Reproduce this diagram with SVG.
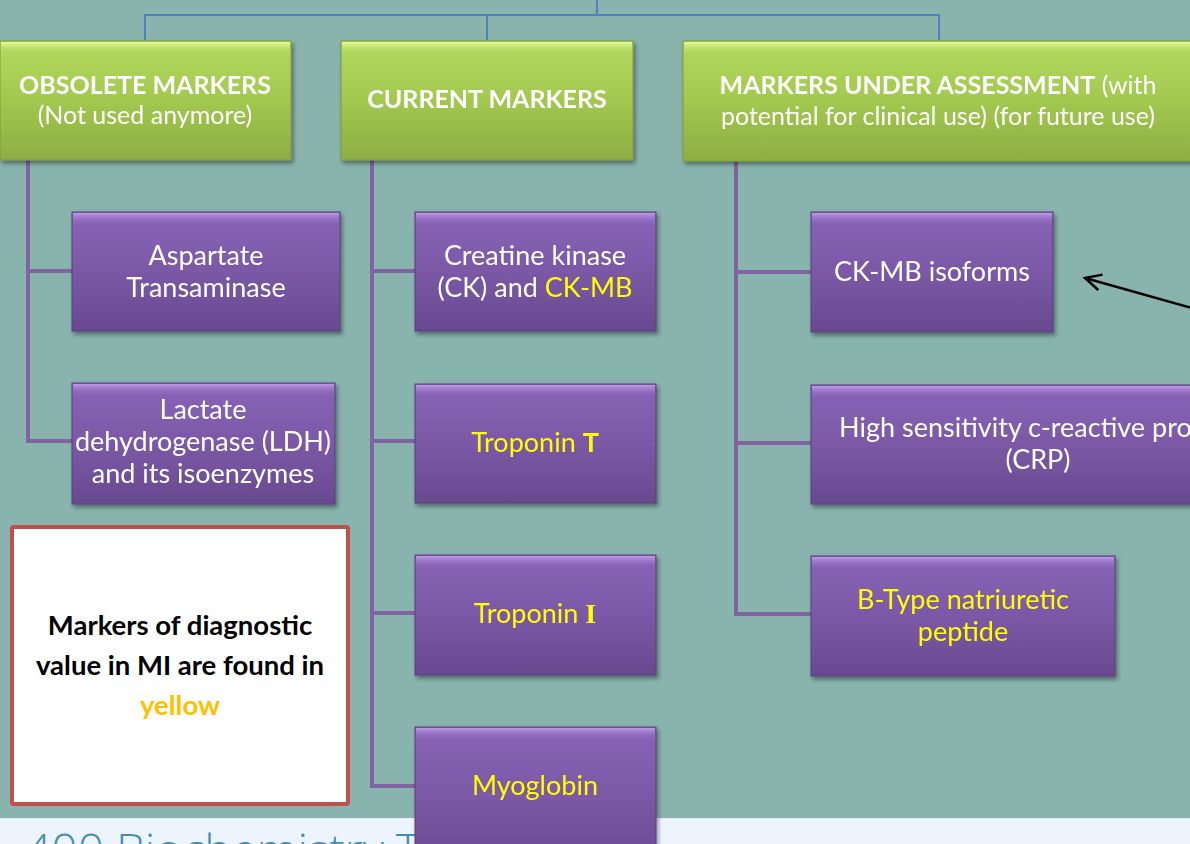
<svg xmlns="http://www.w3.org/2000/svg" width="1190" height="844" viewBox="0 0 1190 844">
<style>
.t{font-family:Lato,"Open Sans","Liberation Sans",sans-serif;font-size:27px;fill:#ffffff;text-anchor:middle}
.h{font-family:Lato,"Open Sans","Liberation Sans",sans-serif;font-size:25px;fill:#ffffff;text-anchor:middle}
.b{font-weight:bold}
.y{fill:#ffff00}
.lg{font-family:Lato,"Open Sans","Liberation Sans",sans-serif;font-size:27.5px;font-weight:bold;fill:#000000;text-anchor:middle}
.or{fill:#ffc000}
.blue{stroke:#4f81bd;stroke-width:2;fill:none}
.pl{stroke:#8064a2;stroke-width:4;fill:none}
.gbox{fill:url(#gg);stroke:#7f9c3a;stroke-width:1}
.pbox{fill:url(#pg);stroke:#5a3f7e;stroke-width:1}
.ghi{fill:url(#ghi)}
.phi{fill:url(#phi)}
</style>
<defs>
<linearGradient id="gg" x1="0" y1="0" x2="0" y2="1">
<stop offset="0" stop-color="#b3d95e"/>
<stop offset="0.5" stop-color="#a2c84f"/>
<stop offset="1" stop-color="#8ead43"/>
</linearGradient>
<linearGradient id="ghi" x1="0" y1="0" x2="0" y2="1">
<stop offset="0" stop-color="#e6fb98"/>
<stop offset="1" stop-color="#b3d95e" stop-opacity="0"/>
</linearGradient>
<linearGradient id="pg" x1="0" y1="0" x2="0" y2="1">
<stop offset="0" stop-color="#8a64b8"/>
<stop offset="0.5" stop-color="#7b58a6"/>
<stop offset="1" stop-color="#684a8f"/>
</linearGradient>
<linearGradient id="phi" x1="0" y1="0" x2="0" y2="1">
<stop offset="0" stop-color="#c09ae6"/>
<stop offset="1" stop-color="#8a64b8" stop-opacity="0"/>
</linearGradient>
<filter id="sh" x="-10%" y="-10%" width="125%" height="130%">
<feDropShadow dx="2" dy="3" stdDeviation="2" flood-color="#000" flood-opacity="0.4"/>
</filter>
<marker id="arr" viewBox="0 0 20 20" refX="18" refY="10" markerWidth="20" markerHeight="20" markerUnits="userSpaceOnUse" orient="auto">
<path d="M2,2 L18,10 L2,18" fill="none" stroke="#000" stroke-width="2.5"/>
</marker>
<clipPath id="strip"><rect x="0" y="818" width="1190" height="26"/></clipPath>
</defs>

<rect x="0" y="0" width="1190" height="844" fill="#89b3ad"/>

<g id="footer">
<rect x="0" y="818" width="1190" height="26" fill="#eef4fd"/>
<line x1="0" y1="818.5" x2="1190" y2="818.5" stroke="#dcecf4" stroke-width="1"/>
<text x="25" y="866" clip-path="url(#strip)" font-family="'Open Sans','Liberation Sans',sans-serif" font-weight="300" font-size="44" fill="#3f8fb5" textLength="395" lengthAdjust="spacingAndGlyphs">400 Biochemistry T</text>
</g>

<g id="connectors">
<polyline class="blue" points="597,0 597,15"/>
<polyline class="blue" points="145,40 145,15 939,15 939,40"/>
<polyline class="blue" points="487,15 487,40"/>
<polyline class="pl" points="28,160 28,441 72,441"/>
<line class="pl" x1="28" y1="271" x2="72" y2="271"/>
<polyline class="pl" points="372,160 372,786 415,786"/>
<line class="pl" x1="372" y1="271" x2="415" y2="271"/>
<line class="pl" x1="372" y1="441" x2="415" y2="441"/>
<line class="pl" x1="372" y1="613" x2="415" y2="613"/>
<polyline class="pl" points="736,161 736,614 811,614"/>
<line class="pl" x1="736" y1="272" x2="811" y2="272"/>
<line class="pl" x1="736" y1="443" x2="811" y2="443"/>
<line x1="1192" y1="308" x2="1085" y2="278" stroke="#000" stroke-width="2.5" marker-end="url(#arr)"/>
</g>

<g id="obsolete" filter="url(#sh)">
<rect class="gbox" x="0" y="41" width="291" height="119"/>
<rect class="ghi" x="1" y="42" width="289" height="12"/>
<text class="h b" x="145" y="94" font-size="24">OBSOLETE MARKERS</text>
<text class="h" x="145" y="124">(Not used anymore)</text>
</g>
<g id="current" filter="url(#sh)">
<rect class="gbox" x="341" y="41" width="292" height="119"/>
<rect class="ghi" x="342" y="42" width="290" height="12"/>
<text class="h b" x="487" y="108">CURRENT MARKERS</text>
</g>
<g id="assessment" filter="url(#sh)">
<rect class="gbox" x="683" y="41" width="520" height="120"/>
<rect class="ghi" x="684" y="42" width="518" height="12"/>
<text class="h" x="938" y="94"><tspan class="b">MARKERS UNDER ASSESSMENT</tspan> (with</text>
<text class="h" x="938" y="125">potential for clinical use) (for future use)</text>
</g>

<g id="ast" filter="url(#sh)">
<rect class="pbox" x="72" y="212" width="268" height="119"/>
<rect class="phi" x="73" y="213" width="266" height="12"/>
<text class="t" x="206" y="265">Aspartate</text>
<text class="t" x="206" y="297">Transaminase</text>
</g>
<g id="ldh" filter="url(#sh)">
<rect class="pbox" x="72" y="383" width="263" height="121"/>
<rect class="phi" x="73" y="384" width="261" height="12"/>
<text class="t" x="203" y="419">Lactate</text>
<text class="t" x="203" y="451">dehydrogenase (LDH)</text>
<text class="t" x="203" y="483">and its isoenzymes</text>
</g>
<g id="ck" filter="url(#sh)">
<rect class="pbox" x="415" y="212" width="241" height="119"/>
<rect class="phi" x="416" y="213" width="239" height="12"/>
<text class="t" x="535" y="265">Creatine kinase</text>
<text class="t" x="535" y="297">(CK) and <tspan class="y">CK-MB</tspan></text>
</g>
<g id="tnt" filter="url(#sh)">
<rect class="pbox" x="415" y="384" width="241" height="119"/>
<rect class="phi" x="416" y="385" width="239" height="12"/>
<text class="t y" x="535" y="452">Troponin <tspan class="b">T</tspan></text>
</g>
<g id="tni" filter="url(#sh)">
<rect class="pbox" x="415" y="555" width="241" height="120"/>
<rect class="phi" x="416" y="556" width="239" height="12"/>
<text class="t y" x="535" y="623">Troponin <tspan font-family="'Liberation Serif',serif" font-weight="bold" font-size="28">I</tspan></text>
</g>
<g id="myo" filter="url(#sh)">
<rect class="pbox" x="415" y="727" width="241" height="140"/>
<rect class="phi" x="416" y="728" width="239" height="12"/>
<text class="t y" x="535" y="795">Myoglobin</text>
</g>
<g id="ckmb" filter="url(#sh)">
<rect class="pbox" x="811" y="212" width="242" height="120"/>
<rect class="phi" x="812" y="213" width="240" height="12"/>
<text class="t" x="932" y="281">CK-MB isoforms</text>
</g>
<g id="crp" filter="url(#sh)">
<rect class="pbox" x="811" y="385" width="470" height="119"/>
<rect class="phi" x="812" y="386" width="468" height="12"/>
<text class="t" x="1038" y="437">High sensitivity c-reactive protein</text>
<text class="t" x="1038" y="469">(CRP)</text>
</g>
<g id="bnp" filter="url(#sh)">
<rect class="pbox" x="811" y="556" width="304" height="120"/>
<rect class="phi" x="812" y="557" width="302" height="12"/>
<text class="t y" x="963" y="609">B-Type natriuretic</text>
<text class="t y" x="963" y="641">peptide</text>
</g>

<g id="legend">
<rect x="12" y="527" width="336" height="277" rx="2" fill="#ffffff" stroke="#c0504d" stroke-width="4"/>
<text class="lg" x="180" y="635">Markers of diagnostic</text>
<text class="lg" x="180" y="675">value in MI are found in</text>
<text class="lg or" x="180" y="715">yellow</text>
</g>
</svg>
